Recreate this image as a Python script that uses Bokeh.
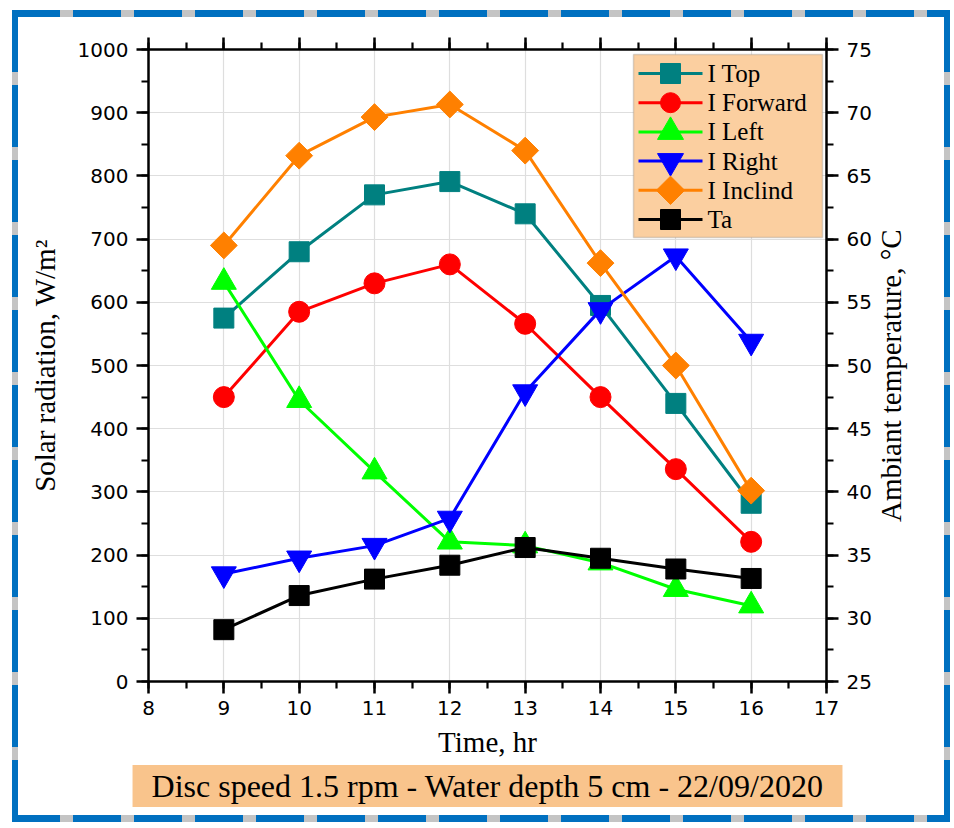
from bokeh.plotting import figure
from bokeh.models import (Range1d, LinearAxis, SingleIntervalTicker, Title,
                          BoxAnnotation, CustomLabelingPolicy)
from bokeh.core.properties import value
from bokeh.embed import file_html
from bokeh.resources import INLINE
import math

# ---------------- data ----------------
hours = [9, 10, 11, 12, 13, 14, 15, 16]
i_top = [575, 680, 770, 791, 740, 595, 440, 282]
i_forward = [450, 585, 630, 660, 566, 450, 336, 221]
i_left = [632, 445, 332, 221, 215, 188, 146, 120]
i_right = [170, 195, 215, 258, 458, 588, 673, 538]
i_inclind = [690, 832, 893, 913, 840, 662, 500, 302]
ta = [29.1, 31.8, 33.1, 34.2, 35.6, 34.75, 33.9, 33.15]

series_names = ["I Top", "I Forward", "I Left", "I Right", "I Inclind", "Ta"]
x_limits = (8, 17)
y_limits = (0, 1000)
t_limits = (25, 75)
x_title = "Time, hr"
y_title = "Solar radiation, W/m²"
t_title = "Ambiant temperature, °C"
footer_text = "Disc speed 1.5 rpm - Water depth 5 cm - 22/09/2020"

# ---------------- layout ----------------
W, H = 950, 822
FL, FR, FT, FB = 148, 826, 49, 681          # frame edges in canvas px
ML, MR, MT, MB = FL, W - FR, FT, H - FB
FW, FH = FR - FL, FB - FT


def px_x(px):  # canvas px -> data x
    return x_limits[0] + (px - FL) * (x_limits[1] - x_limits[0]) / FW


def px_y(py):  # canvas px (from top) -> data y
    return y_limits[1] - (py - FT) * (y_limits[1] - y_limits[0]) / FH


p = figure(width=W, height=H, output_backend="svg", toolbar_location=None,
           x_range=Range1d(*x_limits), y_range=Range1d(*y_limits),
           min_border_left=ML, min_border_right=MR, min_border_top=MT,
           min_border_bottom=MB, outline_line_color=None,
           background_fill_color="white", border_fill_alpha=0.0)
p.extra_y_ranges = {"temp": Range1d(*t_limits)}

# dashed blue page border (blue dashes with light grey gaps), behind the canvas
dash_h = ("repeating-linear-gradient(90deg, #0070c0 0px, #0070c0 48px, "
          "#c4c4c4 48px, #c4c4c4 61px)")
dash_v = ("repeating-linear-gradient(180deg, #0070c0 0px, #0070c0 62px, "
          "#c4c4c4 62px, #c4c4c4 75px)")
p.styles = {
    "background": (f"{dash_h} 12px 10px / calc(100% - 12px) 7px no-repeat, "
                   f"{dash_h} 12px 100% / calc(100% - 12px) 7px no-repeat, "
                   f"{dash_v} 12px 10px / 6px calc(100% - 10px) no-repeat, "
                   f"{dash_v} 100% 10px / 6px calc(100% - 10px) no-repeat, "
                   "white"),
}

tick_font = "DejaVu Sans"
label_font = "Liberation Serif"

ax_b = p.below[0]
ax_l = p.left[0]
xt = SingleIntervalTicker(interval=1, num_minor_ticks=2)
yt = SingleIntervalTicker(interval=100, num_minor_ticks=2)
ax_b.ticker = xt
ax_l.ticker = yt
p.xgrid.ticker = xt
p.ygrid.ticker = yt
p.xgrid.grid_line_color = "#dedede"
p.ygrid.grid_line_color = "#dedede"
p.xgrid.grid_line_width = 1.2
p.ygrid.grid_line_width = 1.2

ax_r = LinearAxis(y_range_name="temp",
                  ticker=SingleIntervalTicker(interval=5, num_minor_ticks=2))
p.add_layout(ax_r, "right")
ax_t = LinearAxis(ticker=SingleIntervalTicker(interval=1, num_minor_ticks=2))
ax_t.major_label_policy = CustomLabelingPolicy(
    code="for (const i of indices) indices.unset(i)")
ax_t.major_label_standoff = 0
p.add_layout(ax_t, "above")

ax_b.axis_label = x_title
ax_l.axis_label = y_title

for ax in [ax_b, ax_l, ax_r, ax_t]:
    ax.axis_line_width = 2.5
    ax.axis_line_color = "black"
    ax.major_tick_line_width = 2.5
    ax.minor_tick_line_width = 2.2
    ax.major_tick_out = 12
    ax.major_tick_in = 0
    ax.minor_tick_out = 7
    ax.minor_tick_in = 0
    ax.major_label_text_font = tick_font
    ax.major_label_text_color = "black"
    ax.major_label_text_font_size = "20px"
    ax.axis_label_text_font = label_font
    ax.axis_label_text_font_style = "normal"
    ax.axis_label_text_color = "black"
    ax.axis_label_text_font_size = "29px"

ax_b.major_label_standoff = 7
ax_b.axis_label_standoff = 8
ax_l.major_label_standoff = 8
ax_l.axis_label_standoff = 14
ax_r.major_label_standoff = 8
ax_r.axis_label_standoff = 16

# right-axis title reads bottom-to-top as in the reference; with a numeric
# orientation Bokeh anchors the text start, so anchor at the axis start and
# lead with non-breaking spaces to lift it to the reference position
ax_r.axis_label = "\u00a0" * 22 + t_title
ax_r.axis_label_orientation = math.pi / 2
ax_r.axis_label_align = "start"

# ---------------- series ----------------
colors = ["#008080", "#ff0000", "#00ff00", "#0000ff", "#ff8000", "#000000"]
markers = ["square", "circle", "triangle", "inverted_triangle", "square", "square"]
msizes = [20, 21, 25, 25, 19, 20]
mangles = [0, 0, 0, 0, math.pi / 4, 0]
values = [i_top, i_forward, i_left, i_right, i_inclind, ta]
ranges = ["default"] * 5 + ["temp"]

for vals, col, mk, sz, ang, rn in zip(values, colors, markers, msizes, mangles, ranges):
    p.line(hours, vals, line_color=col, line_width=3, y_range_name=rn)
    p.scatter(hours, vals, marker=mk, size=sz, angle=ang,
              fill_color=col, line_color=col, y_range_name=rn)

# ---------------- legend (drawn inside the frame) ----------------
LG_L, LG_R, LG_T, LG_B = 633, 822, 54, 237      # canvas px
row0, pitch = 73, 29.2
leg_y = [px_y(row0 + k * pitch) for k in range(len(series_names))]
p.add_layout(BoxAnnotation(left=px_x(LG_L), right=px_x(LG_R),
                           top=px_y(LG_T), bottom=px_y(LG_B),
                           fill_color="#fbcfa0", fill_alpha=1.0,
                           line_color="#808080", line_width=1.5,
                           level="underlay"))
p.segment(x0=[px_x(638)] * 6, x1=[px_x(702)] * 6, y0=leg_y, y1=leg_y,
          line_color=colors, line_width=3, level="overlay")
leg_sizes = [20, 20, 26, 26, 20, 20]
for k in range(len(series_names)):
    p.scatter([px_x(670)], [leg_y[k]], marker=markers[k], size=leg_sizes[k],
              angle=mangles[k], fill_color=colors[k], line_color=colors[k],
              level="overlay")
p.text(x=[px_x(707)] * 6, y=leg_y, text=series_names,
       text_font=value(label_font), text_font_size="25px",
       text_baseline="middle", text_align="left", text_color="black",
       level="overlay")

# ---------------- footer box ----------------
footer = Title(text=footer_text, align="center", text_font=label_font,
               text_font_size="32px", text_font_style="normal",
               text_color="black", background_fill_color="#f9c48c",
               background_fill_alpha=1.0, standoff=5)
try:
    footer.padding = dict(left=19, right=19, top=3, bottom=3)
except Exception:
    footer.padding = 4
p.add_layout(footer, "below")

open("out.html", "w").write(file_html(p, INLINE))
